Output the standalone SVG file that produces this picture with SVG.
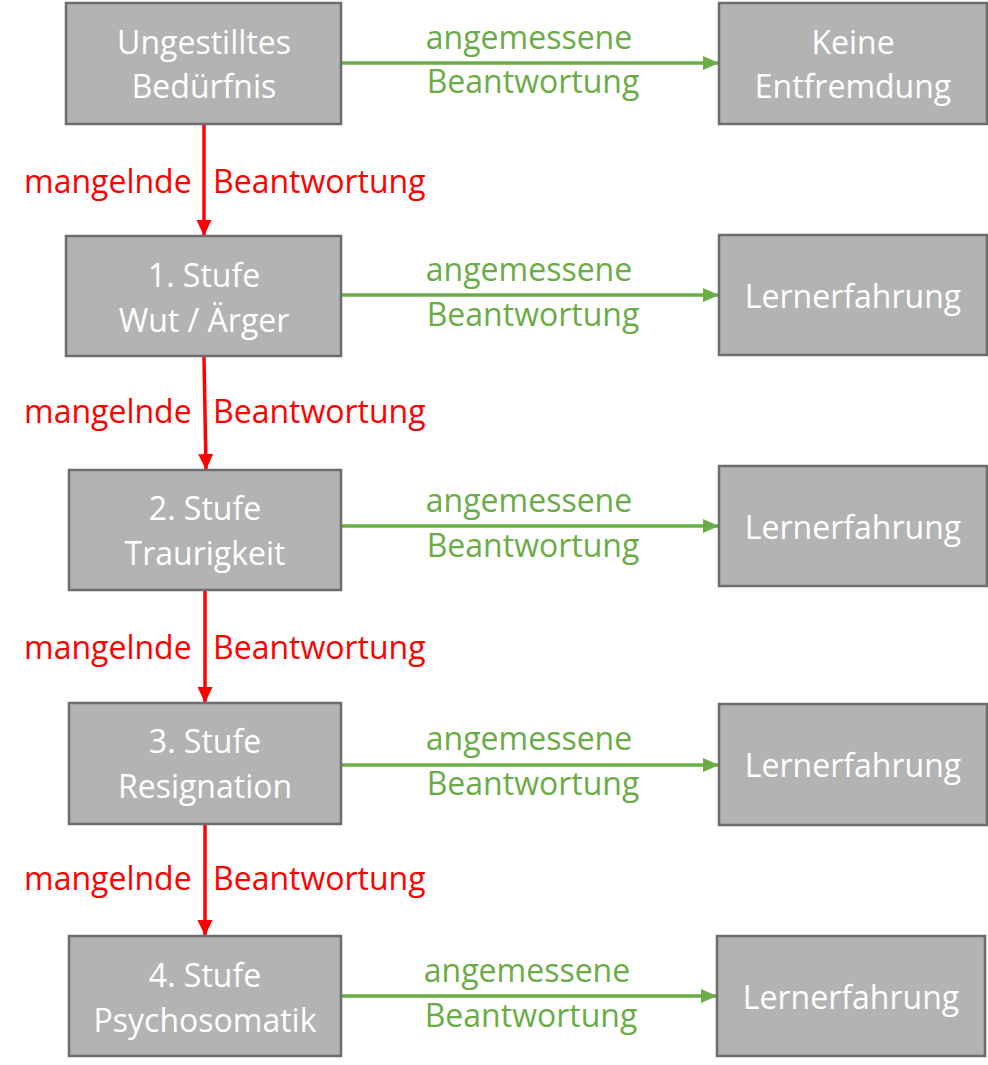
<svg xmlns="http://www.w3.org/2000/svg" width="988" height="1065" viewBox="0 0 988 1065">
<style>
.box{fill:#b3b3b3;stroke:#6d6d6d;stroke-width:2.5}
.bt{font-family:"Open Sans",Lato,sans-serif;font-size:32px;fill:#ffffff;text-anchor:middle}
.g{font-family:"Open Sans",Lato,sans-serif;font-size:32px;fill:#6aac46;text-anchor:middle}
.r{font-family:"Open Sans",Lato,sans-serif;font-size:32px;fill:#ff0000}
.ga{stroke:#6aac46;stroke-width:3.5;fill:none;marker-end:url(#ag)}
.ra{stroke:#ff0000;stroke-width:3.5;fill:none;marker-end:url(#ar)}
</style>
<defs>
<marker id="ag" markerUnits="userSpaceOnUse" markerWidth="16" markerHeight="16" refX="16" refY="7" orient="auto"><path d="M0,0 L16,7 L0,14 Z" fill="#6aac46"/></marker>
<marker id="ar" markerUnits="userSpaceOnUse" markerWidth="16" markerHeight="16" refX="16" refY="7.5" orient="auto"><path d="M0,0 L16,7.5 L0,15 Z" fill="#ff0000"/></marker>
</defs>
<g id="connectors">
<path class="ga" d="M341,63 H719"/>
<path class="ga" d="M341,295 H719"/>
<path class="ga" d="M341,526 H719"/>
<path class="ga" d="M341,765 H719"/>
<path class="ga" d="M341,996 H717"/>
<path class="ra" d="M204,124 V236"/>
<path class="ra" d="M204,356 L206,470"/>
<path class="ra" d="M205,590 V703"/>
<path class="ra" d="M205,824 V936"/>
<text class="g" x="529" y="49">angemessene</text>
<text class="g" x="533" y="93">Beantwortung</text>
<text class="g" x="529" y="281">angemessene</text>
<text class="g" x="533" y="326">Beantwortung</text>
<text class="g" x="529" y="512">angemessene</text>
<text class="g" x="533" y="557">Beantwortung</text>
<text class="g" x="529" y="750">angemessene</text>
<text class="g" x="533" y="795">Beantwortung</text>
<text class="g" x="527" y="982">angemessene</text>
<text class="g" x="531" y="1027">Beantwortung</text>
<text class="r" x="24" y="193">mangelnde <tspan x="213">Beantwortung</tspan></text>
<text class="r" x="24" y="423">mangelnde <tspan x="213">Beantwortung</tspan></text>
<text class="r" x="24" y="659">mangelnde <tspan x="213">Beantwortung</tspan></text>
<text class="r" x="24" y="890">mangelnde <tspan x="213">Beantwortung</tspan></text>
</g>
<g id="n1"><rect class="box" x="66" y="3" width="275" height="121"/><text class="bt" x="204" y="54">Ungestilltes</text><text class="bt" x="204" y="98">Bedürfnis</text></g>
<g id="n2"><rect class="box" x="66" y="236" width="275" height="120"/><text class="bt" x="204" y="287">1. Stufe</text><text class="bt" x="204" y="332">Wut / Ärger</text></g>
<g id="n3"><rect class="box" x="69" y="470" width="272" height="120"/><text class="bt" x="205" y="520">2. Stufe</text><text class="bt" x="205" y="565">Traurigkeit</text></g>
<g id="n4"><rect class="box" x="69" y="703" width="272" height="121"/><text class="bt" x="205" y="753">3. Stufe</text><text class="bt" x="205" y="798">Resignation</text></g>
<g id="n5"><rect class="box" x="69" y="936" width="272" height="120"/><text class="bt" x="205" y="987">4. Stufe</text><text class="bt" x="205" y="1032">Psychosomatik</text></g>
<g id="r1"><rect class="box" x="719" y="3" width="268" height="121"/><text class="bt" x="853" y="54">Keine</text><text class="bt" x="853" y="98">Entfremdung</text></g>
<g id="r2"><rect class="box" x="719" y="235" width="268" height="120"/><text class="bt" x="853" y="308">Lernerfahrung</text></g>
<g id="r3"><rect class="box" x="719" y="466" width="268" height="120"/><text class="bt" x="853" y="539">Lernerfahrung</text></g>
<g id="r4"><rect class="box" x="719" y="704" width="268" height="121"/><text class="bt" x="853" y="777">Lernerfahrung</text></g>
<g id="r5"><rect class="box" x="717" y="936" width="268" height="120"/><text class="bt" x="851" y="1009">Lernerfahrung</text></g>
</svg>
